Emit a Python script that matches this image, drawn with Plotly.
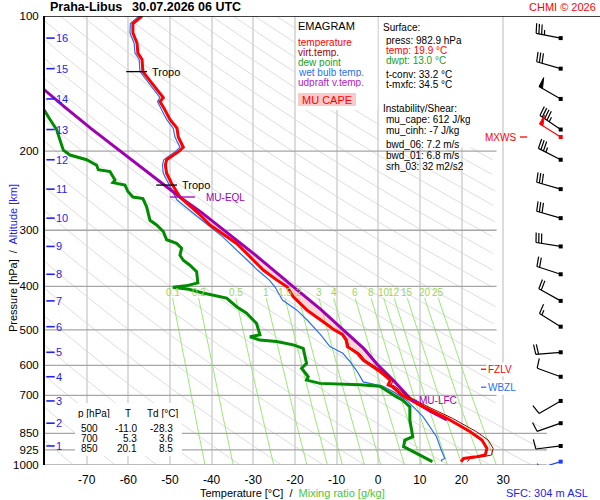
import numpy as np
import plotly.graph_objects as go

# ---------------- data ----------------
temp_p = [100,104,109,115,121,125,133,148,152,155,160,170,178,186,196,200,209,215,224,236,253,275,292,321,368,387,401,422,437,452,483,500,512,527,545,564,584,620,647,663,668,699,742,787,843,880,918,950,958,967,983]
temp_T = [-56.7,-58.9,-58.9,-57.9,-57.7,-56.7,-56.5,-52.4,-51.6,-52.4,-51.5,-50.0,-48.3,-48.0,-46.8,-47.8,
          -50.8,-51.1,-50.8,-49.6,-47.6,-43.2,-40.4,-34.0,-27.6,-24.4,-21.9,-20.4,-18.8,-17.1,-12.8,
          -10.6,-8.6,-7.7,-7.4,-5.0,-3.6,0.5,2.9,2.4,3.3,5.7,10.9,16.5,22.1,24.9,26.1,25.7,23.7,20.5,19.9]
virt_T = [-56.7,-58.9,-58.9,-57.9,-57.7,-56.7,-56.5,-52.4,-51.6,-52.4,-51.5,-50.0,-48.3,-48.0,-46.8,-47.8,
          -50.8,-51.1,-50.8,-49.6,-47.6,-43.2,-40.4,-34.0,-27.5,-24.3,-21.8,-20.2,-18.6,-16.9,-12.6,
          -10.3,-8.3,-7.4,-7.1,-4.5,-3.1,1.2,3.6,3.1,4.0,6.6,12.0,17.8,23.6,26.4,27.6,27.2,25.2,22.0,21.4]

dew_p = [150,163,170,179,189,199,204,209,215,220,222,232,235,238,246,253,255,266,285,292,302,315,321,329,341,350,
         359,371,393,399,402,406,414,425,444,459,484,513,518,527,531,540,550,594,609,636,647,658,663,668,705,717,
         742,794,865,880,910,942,975,983]
dew_T = [-83.0,-80.0,-78.8,-77.2,-76.4,-75.6,-74.0,-70.0,-67.6,-67.2,-64.4,-63.2,-63.7,-60.8,-60.1,-58.9,-56.5,
         -55.6,-54.8,-53.2,-51.6,-50.8,-48.4,-47.2,-47.6,-46.8,-45.2,-43.6,-43.3,-46.2,-49.3,-45.5,-42.1,-36.4,
         -34.0,-31.6,-29.2,-28.4,-30.8,-28.4,-24.4,-20.4,-18.0,-17.2,-18.4,-16.8,-17.2,-14.0,-4.4,0.4,4.4,5.9,
         7.6,7.6,8.3,6.4,6.1,9.2,12.4,13.0]

wb_p = [100,104,109,115,121,125,133,148,152,155,160,170,178,186,196,200,209,215,224,236,257,285,310,350,368,387,
        401,429,452,476,513,545,564,588,620,653,668,690,717,781,865,930,950,967,975,983]
wb_T = [-57.4,-59.5,-59.6,-58.6,-58.4,-57.4,-57.2,-53.2,-52.4,-53.0,-52.3,-50.8,-49.2,-48.8,-47.6,-48.6,-51.5,
        -51.8,-51.6,-50.4,-48.3,-42.3,-37.4,-31.4,-29.0,-26.2,-24.8,-23.0,-19.5,-17.0,-13.8,-11.6,-8.5,-6.8,
        -5.0,-3.6,1.2,4.0,6.8,10.8,14.0,15.2,15.6,16.0,15.2,15.3]

parcel_p = [135,146,160,178,200,230,254,273,300,340,400,450,500,527,550,600,650,700,718,760,794]
parcel_T = [-84.5,-80.2,-75.1,-69.0,-62.0,-53.4,-47.4,-42.6,-37.0,-29.6,-20.5,-13.8,-8.4,-5.6,-3.5,0.0,3.8,7.0,8.1,12.6,16.5]

km_levels = list(range(1, 17))
km_p = [907, 807, 720, 636, 561, 492, 431, 376, 326, 282, 243, 209, 179, 153, 131, 112]

sfc_p = 983
wind_p   = [983, 907, 807, 720, 636, 561, 492, 431, 376, 326, 282, 243, 209, 179, 153, 131, 112]
wind_dir = [253, 263, 251, 240, 290, 265, 302, 299, 288, 279, 286, 286, 297, 304, 300, 286, 281]
wind_kt  = [3,   10,  10,  10,  10,  20,  15,  20,  20,  30,  30,  30,  35,  45,  50,  30,  35]
mxws_p, mxws_dir, mxws_kt = 186, 302, 50

tropo_p = [133, 238]
tropo_T = [-56.5, -49.3]
eql_p, eql_T = 253, -47.6
lfc_p, lfc_T = 718, 8.1
fzlv_p = 612
wbzl_p = 671

isotherms = [-70, -60, -50, -40, -30, -20, -10, 0, 10, 20, 30]
isobars = [200, 300, 400, 500, 600, 700, 850, 925, 1000]
pressure_ticks = [100, 200, 300, 400, 500, 600, 700, 850, 925, 1000]
mix_ratios = [0.1, 0.2, 0.5, 1, 1.5, 2, 3, 4, 6, 8, 10, 12, 15, 20, 25]
mix_labels = ["0.1", "0.2", "0.5", "1", "1.5", "2", "3", "4", "6", "8", "10", "12", "15", "20", "25"]
thetas = list(range(190, 600, 10))

table_p = [500, 700, 850]
table_T = [-11.0, 5.3, 20.1]
table_Td = [-28.3, 3.6, 8.5]

# ---------------- geometry ----------------
W, H = 600, 500
ML, MR, MT, MB = 45, 0, 16, 35
XMIN, XMAX = -80.0, 53.25
KX = (W - ML - MR) / (XMAX - XMIN)      # px per degC
KY = (H - MT - MB) / 1.0                # px per decade of pressure
FONT = "Liberation Sans, Arial, sans-serif"

def xp(px):
    return (px - ML) / (W - ML - MR)

def yp(py):
    return (H - MB - py) / (H - MT - MB)

def t_at_px(px):
    return XMIN + (px - ML) / KX

RED = "#FF0000"; DRED = "#A00000"; GREEN = "#008C00"; BLUE = "#2B6FF0"
PURPLE = "#A000B4"; MIXG = "#9BE87A"; ALTB = "#2323F0"

fig = go.Figure()

# dry adiabats
def right_limit(p):
    return np.where(p < 800, 28.4, 40.5)

pp = np.geomspace(100, 1000, 160)
ax_x, ax_y = [], []
for th in thetas:
    t = th * (pp / 1000.0) ** 0.2857 - 273.15
    t = np.where((t > right_limit(pp)) | (t < -86), np.nan, t)
    ax_x += list(t) + [None]
    ax_y += list(pp) + [None]
fig.add_trace(go.Scatter(x=ax_x, y=ax_y, mode="lines", line=dict(color="#D4D4D4", width=0.8),
                         hoverinfo="skip", showlegend=False))

# mixing ratio lines
mp = np.geomspace(425, 1000, 30)
mx, my = [], []
for w in mix_ratios:
    e = w * mp / (622.0 + w)
    l = np.log(e / 6.112)
    td = 243.5 * l / (17.67 - l)
    mx += list(td) + [None]
    my += list(mp) + [None]
fig.add_trace(go.Scatter(x=mx, y=my, mode="lines", line=dict(color=MIXG, width=1),
                         hoverinfo="skip", showlegend=False))

# isobars
for p in isobars:
    fig.add_trace(go.Scatter(x=[XMIN, float(right_limit(np.array(p)))], y=[p, p], mode="lines",
                             line=dict(color="#A6A6A6", width=1.3), hoverinfo="skip", showlegend=False))

# CAPE area between parcel and temperature
cp = [p for p in parcel_p if eql_p <= p <= lfc_p]
ct = [t for p, t in zip(parcel_p, parcel_T) if eql_p <= p <= lfc_p]
rp = [p for p in temp_p if eql_p <= p <= lfc_p][::-1]
rt = [t for p, t in zip(temp_p, temp_T) if eql_p <= p <= lfc_p][::-1]
fig.add_trace(go.Scatter(x=ct + rt, y=cp + rp, mode="lines", fill="toself",
                         fillcolor="rgba(255,150,150,0.38)", line=dict(width=0),
                         hoverinfo="skip", showlegend=False))

# profiles
fig.add_trace(go.Scatter(x=wb_T, y=wb_p, mode="lines", line=dict(color=BLUE, width=1.2), showlegend=False))
fig.add_trace(go.Scatter(x=parcel_T, y=parcel_p, mode="lines", line=dict(color=PURPLE, width=3), showlegend=False))
fig.add_trace(go.Scatter(x=virt_T, y=temp_p, mode="lines", line=dict(color=DRED, width=1), showlegend=False))
fig.add_trace(go.Scatter(x=temp_T, y=temp_p, mode="lines", line=dict(color=RED, width=3), showlegend=False))
fig.add_trace(go.Scatter(x=dew_T, y=dew_p, mode="lines", line=dict(color=GREEN, width=3), showlegend=False))

# level markers
annotations = []
for p, t in zip(tropo_p, tropo_T):
    fig.add_trace(go.Scatter(x=[t - 4.0, t + 1.0], y=[p, p], mode="lines", line=dict(color="black", width=1.3),
                             showlegend=False, hoverinfo="skip"))
    annotations.append(dict(text="Tropo", x=t + 1.6, y=np.log10(p), xref="x", yref="y", xanchor="left",
                            yanchor="middle", showarrow=False, font=dict(size=11, color="black", family=FONT)))
fig.add_trace(go.Scatter(x=[eql_T - 2.4, eql_T + 3.6], y=[eql_p, eql_p], mode="lines",
                         line=dict(color=PURPLE, width=1.3), showlegend=False, hoverinfo="skip"))
annotations.append(dict(text="MU-EQL", x=eql_T + 5.8, y=np.log10(eql_p), xref="x", yref="y", xanchor="left",
                        yanchor="middle", showarrow=False, font=dict(size=10, color=PURPLE, family=FONT)))
fig.add_trace(go.Scatter(x=[lfc_T, lfc_T + 1.2], y=[lfc_p, lfc_p], mode="lines",
                         line=dict(color=PURPLE, width=1.3), showlegend=False, hoverinfo="skip"))
annotations.append(dict(text="MU-LFC", x=lfc_T + 1.3, y=np.log10(lfc_p), xref="x", yref="y", xanchor="left",
                        yanchor="middle", showarrow=False, font=dict(size=10, color=PURPLE, family=FONT)))

lab_x0 = t_at_px(481)
for p, name, col in [(fzlv_p, "FZLV", RED), (wbzl_p, "WBZL", BLUE)]:
    annotations.append(dict(text=name, x=lab_x0 + 1.3, y=np.log10(p), xref="x", yref="y", xanchor="left",
                            yanchor="middle", showarrow=False, bgcolor="white", borderpad=1,
                            font=dict(size=10, color=col, family=FONT)))
    fig.add_trace(go.Scatter(x=[lab_x0, lab_x0 + 1.3], y=[p, p], mode="lines", line=dict(color=col, width=1.3),
                             showlegend=False, hoverinfo="skip"))
mx0 = t_at_px(520)
fig.add_trace(go.Scatter(x=[mx0, mx0 + 1.7], y=[mxws_p, mxws_p], mode="lines", line=dict(color=RED, width=1.3),
                         showlegend=False, hoverinfo="skip"))
annotations.append(dict(text="MXWS", x=mx0 - 0.4, y=np.log10(mxws_p), xref="x", yref="y", xanchor="right",
                        yanchor="middle", showarrow=False, font=dict(size=10, color=RED, family=FONT)))

# altitude ticks
fig.add_trace(go.Scatter(x=[t_at_px(50.5)] * len(km_p), y=km_p, mode="markers",
                         marker=dict(symbol="line-ew", size=6, line=dict(color=ALTB, width=1.6)),
                         showlegend=False, hoverinfo="skip"))
for k, p in zip(km_levels, km_p):
    annotations.append(dict(text=str(k), x=t_at_px(54), y=np.log10(p), xref="x", yref="y", xanchor="left",
                            yanchor="middle", showarrow=False, font=dict(size=11, color=ALTB, family=FONT)))

# wind barbs
T_ANCHOR = t_at_px(560.7)

def barb(p0, bearing, kt, color):
    b = np.radians(bearing)
    d = np.array([np.sin(b), -np.cos(b)])
    f = np.array([np.cos(b), np.sin(b)])
    tilt = np.radians(8)
    fd = f * np.cos(tilt) + d * np.sin(tilt)
    L = 25.0
    segs = [[np.zeros(2), d * L]]
    flags = []
    spd = int(round(kt / 5.0)) * 5
    n50 = spd // 50
    n10 = (spd - 50 * n50) // 10
    n5 = (spd - 50 * n50 - 10 * n10) // 5
    pos = L
    for _ in range(n50):
        flags.append([d * pos, d * pos + fd * 10 - d * 1.0, d * (pos - 4)])
        pos -= 5.5
    for _ in range(n10):
        segs.append([d * pos, d * pos + fd * 10])
        pos -= 2.8
    for _ in range(n5):
        if pos == L:
            pos -= 2.8
        segs.append([d * pos, d * pos + fd * 5])

    def conv(v):
        return T_ANCHOR + v[0] / KX, p0 * 10 ** (v[1] / KY)
    xs, ys = [], []
    for a, c in segs:
        for v in (a, c):
            x, y = conv(v); xs.append(x); ys.append(y)
        xs.append(None); ys.append(None)
    fig.add_trace(go.Scatter(x=xs, y=ys, mode="lines", line=dict(color=color, width=1.2),
                             showlegend=False, hoverinfo="skip"))
    for fl in flags:
        pts = [conv(v) for v in fl] + [conv(fl[0])]
        fig.add_trace(go.Scatter(x=[q[0] for q in pts], y=[q[1] for q in pts], mode="lines", fill="toself",
                                 fillcolor=color, line=dict(color=color, width=1), showlegend=False,
                                 hoverinfo="skip"))
    fig.add_trace(go.Scatter(x=[T_ANCHOR], y=[p0], mode="markers",
                             marker=dict(symbol="square", size=4, color=color), showlegend=False,
                             hoverinfo="skip"))

for p, dr, s in zip(wind_p, wind_dir, wind_kt):
    barb(p, dr, s, "#1F3FFF" if p == sfc_p else "black")
barb(mxws_p, mxws_dir, mxws_kt, RED)

# top border
fig.add_trace(go.Scatter(x=[XMIN, XMAX], y=[100, 100], mode="lines", line=dict(color="black", width=1.6),
                         showlegend=False, hoverinfo="skip", cliponaxis=False))

# ---------------- boxes & texts ----------------
shapes = []
def box(x0, y0, x1, y1, fill="white"):
    shapes.append(dict(type="rect", xref="paper", yref="paper", x0=xp(x0), x1=xp(x1), y0=yp(y1), y1=yp(y0),
                       fillcolor=fill, line=dict(width=0), layer="above"))
box(296, 17, 377.5, 110)
box(379.3, 17, 501.5, 147.5)
box(75, 403, 182, 456)
box(298, 93, 356, 106, fill="#F9CACA")

def ann(text, px, py, size=10, color="black", xanchor="left", bold=False, h=None):
    if bold:
        text = "<b>" + text + "</b>"
    d = dict(text=text, x=xp(px), y=yp(py), xref="paper", yref="paper", xanchor=xanchor,
             yanchor="middle", showarrow=False, borderpad=0,
             font=dict(size=size, color=color, family=FONT))
    if size <= 10:
        d["height"] = h if h else 10
        d["valign"] = "middle"
    annotations.append(d)

ann("Praha-Libus", 49, 7.5, size=12.5, bold=True)
ann("30.07.2026 06 UTC", 131, 7.5, size=12.5, bold=True)
ann("CHMI © 2026", 597, 7.5, size=11, color=RED, xanchor="right")

ann("EMAGRAM", 297, 26, size=11)
ann("temperature", 297, 41.7, color=RED)
ann("virt.temp.", 297, 51.7, color=DRED)
ann("dew point", 297, 61.7, color="#22A022")
ann("wet bulb temp.", 297, 71.7, color=BLUE)
ann("udpraft v.temp.", 297, 81.7, color="#B020C8")
ann("MU CAPE", 327, 100, size=11, color=RED, xanchor="center")

ann("Surface:", 381.5, 27.3)
ann("press: 982.9 hPa", 385, 40)
ann("temp: 19.9 °C", 385, 50, color=RED)
ann("dwpt: 13.0 °C", 385, 60, color="#22A022")
ann("t-conv: 33.2 °C", 385, 74)
ann("t-mxfc: 34.5 °C", 385, 84)
ann("Instability/Shear:", 381.5, 107.5)
ann("mu_cape: 612 J/kg", 385, 119, h=11)
ann("mu_cinh: -7 J/kg", 385, 130, h=11)
ann("bwd_06: 7.2 m/s", 385, 144.3, h=11)
ann("bwd_01: 6.8 m/s", 385, 155.3, h=11)
ann("srh_03: 32 m2/s2", 385, 166.3, h=11)

ann("p [hPa]", 77, 413.3)
ann("T", 128, 413.3, xanchor="center")
ann("Td [°C]", 146, 413.3)
for i, (p, t, td) in enumerate(zip(table_p, table_T, table_Td)):
    yy = 428.3 + 10 * i
    ann(str(p), 99, yy, xanchor="right")
    ann(f"{t:.1f}", 138, yy, xanchor="right")
    ann(f"{td:.1f}", 174, yy, xanchor="right")

ann("Temperature [°C]  /  <span style='color:#4CC43A'>Mixing ratio [g/kg]</span>", 292, 492.5, size=11,
    xanchor="center")
ann("SFC: 304 m ASL", 589, 492.5, size=11, color=ALTB, xanchor="right")
annotations.append(dict(text="Pressure [hPa]  /  <span style='color:#2323F0'>Altitude [km]</span>",
                        x=xp(13), y=yp(258), xref="paper", yref="paper", textangle=-90, showarrow=False,
                        xanchor="center", yanchor="middle", font=dict(size=11, color="black", family=FONT)))

# mixing ratio labels
for w, lab in zip(mix_ratios, mix_labels):
    e = w * 425 / (622.0 + w)
    l = np.log(e / 6.112)
    td = 243.5 * l / (17.67 - l)
    annotations.append(dict(text=lab, x=td, y=np.log10(413), xref="x", yref="y", xanchor="center",
                            yanchor="middle", showarrow=False, font=dict(size=10, color="#9AD65A", family=FONT)))

fig.update_layout(
    width=W, height=H, margin=dict(l=ML, r=MR, t=MT, b=MB, pad=0),
    paper_bgcolor="white", plot_bgcolor="white", showlegend=False,
    font=dict(family=FONT, size=11, color="black"),
    xaxis=dict(range=[XMIN, XMAX], tickvals=isotherms, ticktext=[str(t) for t in isotherms],
               showgrid=True, gridcolor="#DCDCDC", gridwidth=1.6, zeroline=False, showline=False,
               ticks="outside", ticklen=4, tickcolor="rgba(0,0,0,0)", tickfont=dict(size=12)),
    yaxis=dict(type="log", range=[3, 2], tickvals=pressure_ticks, ticktext=[str(p) for p in pressure_ticks],
               showgrid=False, zeroline=False, showline=True, linecolor="black", linewidth=2,
               ticks="outside", ticklen=2, tickcolor="rgba(0,0,0,0)", tickfont=dict(size=11.5)),
    shapes=shapes, annotations=annotations,
)

fig.write_html("out.html", config={"displayModeBar": False},
               post_script="document.body.style.margin='0';document.body.style.overflow='hidden';")
